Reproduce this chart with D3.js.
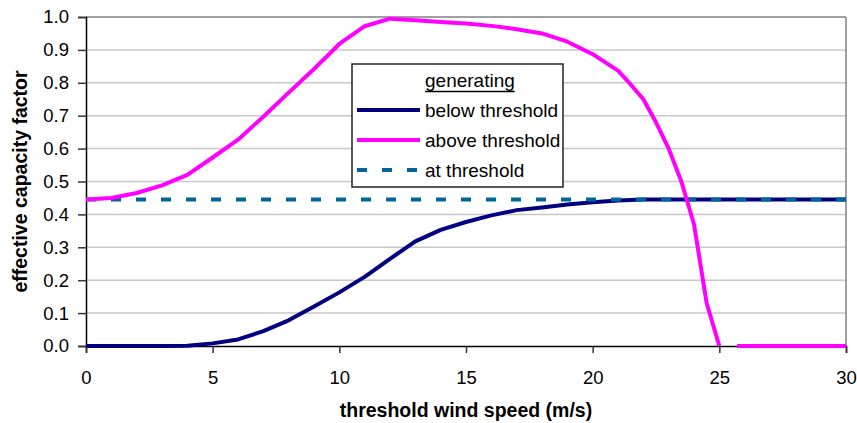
<!DOCTYPE html>
<html>
<head>
<meta charset="utf-8">
<script src="https://cdn.jsdelivr.net/npm/d3@7"></script>
<style>
  html, body { margin: 0; padding: 0; background: #fff; }
  svg { display: block; font-family: "Liberation Sans", Arial, sans-serif; }
</style>
</head>
<body>
<svg id="chart" width="857" height="423"></svg>
<script>
// ---- data ----
const speeds = [0,1,2,3,4,5,6,7,8,9,10,11,12,13,14,15,16,17,18,19,20,21,22,23,24,25,26,27,28,29,30];
const belowValues = [0,0,0,0,0.001,0.008,0.02,0.045,0.078,0.12,0.163,0.21,0.265,0.318,0.353,0.377,0.397,0.413,0.421,0.43,0.437,0.442,0.445,0.445,0.445,0.445,0.445,0.445,0.445,0.445,0.445];
const thresholdValues = speeds.map(() => 0.445);
const aboveSpeeds = [0,1,2,3,4,5,6,7,8,9,10,11,12,13,14,15,16,17,18,19,20,21,21.5,22,22.5,23,23.5,24,24.5,25,25.35,25.7,26,27,28,29,30];
const aboveValues = [0.445,0.45,0.465,0.488,0.52,0.573,0.627,0.697,0.77,0.842,0.918,0.972,0.995,0.99,0.985,0.98,0.973,0.963,0.95,0.925,0.887,0.837,0.795,0.75,0.68,0.6,0.5,0.37,0.13,0,null,0,0,0,0,0,0];
const xTicks = [0,5,10,15,20,25,30];
const yTicks = [0,0.1,0.2,0.3,0.4,0.5,0.6,0.7,0.8,0.9,1.0];
const seriesNames = ["below threshold","above threshold","at threshold"];
const legendTitle = "generating";

// ---- layout ----
const svg = d3.select("#chart");
const pLeft = 86, pRight = 846, pTop = 17, pBottom = 346;
const x = d3.scaleLinear().domain([0,30]).range([pLeft,pRight]);
const y = d3.scaleLinear().domain([0,1]).range([pBottom,pTop]);

// gridlines
svg.append("g").selectAll("line").data(yTicks.filter(d => d > 0 && d < 1)).join("line")
  .attr("x1", pLeft).attr("x2", pRight)
  .attr("y1", d => y(d)).attr("y2", d => y(d))
  .attr("stroke", "#c8c8c8").attr("stroke-width", 1.5);

// plot border top/right
svg.append("line").attr("x1", pLeft).attr("x2", pRight).attr("y1", pTop).attr("y2", pTop)
  .attr("stroke", "#808080").attr("stroke-width", 1.5);
svg.append("line").attr("x1", pRight).attr("x2", pRight).attr("y1", pTop).attr("y2", pBottom)
  .attr("stroke", "#808080").attr("stroke-width", 1.5);

// axes
const yAxis = d3.axisLeft(y).tickValues(yTicks).tickFormat(d3.format(".1f")).tickSize(8).tickPadding(9);
const gy = svg.append("g").attr("transform", `translate(${pLeft},0)`).call(yAxis);
gy.select(".domain").attr("stroke", "#000").attr("stroke-width", 1.5);
gy.selectAll(".tick line").attr("stroke", "#333").attr("stroke-width", 1.5);
gy.selectAll(".tick text").attr("font-size", 18.5).attr("fill", "#000")
  .attr("font-family", '"Liberation Sans", Arial, sans-serif');

const xAxis = d3.axisBottom(x).tickValues(xTicks).tickFormat(d3.format("d")).tickSize(7).tickPadding(18);
const gx = svg.append("g").attr("transform", `translate(0,${pBottom})`).call(xAxis);
gx.select(".domain").attr("stroke", "#000").attr("stroke-width", 1.5);
gx.selectAll(".tick line").attr("stroke", "#333").attr("stroke-width", 1.5);
gx.selectAll(".tick text").attr("font-size", 18.5).attr("fill", "#000")
  .attr("font-family", '"Liberation Sans", Arial, sans-serif');

// axis titles
svg.append("text").attr("x", (pLeft+pRight)/2).attr("y", 417).attr("text-anchor", "middle")
  .attr("font-size", 19.5).attr("font-weight", "bold").text("threshold wind speed (m/s)");
svg.append("text").attr("transform", `translate(27,${(pTop+pBottom)/2}) rotate(-90)`)
  .attr("text-anchor", "middle").attr("font-size", 19.5).attr("font-weight", "bold")
  .text("effective capacity factor");

// lines
const line = d3.line().defined(d => d[1] !== null).x(d => x(d[0])).y(d => y(d[1]));
svg.append("path").datum(speeds.map((s,i) => [s, belowValues[i]]))
  .attr("d", line).attr("fill", "none").attr("stroke", "#000080").attr("stroke-width", 4)
  .attr("stroke-linejoin", "round");
svg.append("path").datum(speeds.map((s,i) => [s, thresholdValues[i]]))
  .attr("d", line).attr("fill", "none").attr("stroke", "#006699").attr("stroke-width", 4)
  .attr("stroke-dasharray", "10,15");
svg.append("path").datum(aboveSpeeds.map((s,i) => [s, aboveValues[i]]))
  .attr("d", line).attr("fill", "none").attr("stroke", "#ff00ff").attr("stroke-width", 4)
  .attr("stroke-linejoin", "round");

// legend
const lg = svg.append("g");
lg.append("rect").attr("x", 352).attr("y", 64).attr("width", 211).attr("height", 123)
  .attr("fill", "#fff").attr("stroke", "#222").attr("stroke-width", 1.5);
const tt = lg.append("text").attr("x", 425).attr("y", 87).attr("font-size", 19).text(legendTitle);
const tw = tt.node().getComputedTextLength();
lg.append("line").attr("x1", 425).attr("x2", 425 + tw).attr("y1", 91.5).attr("y2", 91.5)
  .attr("stroke", "#000").attr("stroke-width", 1.5);
const legendColors = ["#000080","#ff00ff","#006699"];
const legendDash = [null, null, "10,15"];
seriesNames.forEach((name, i) => {
  const yy = 110 + i * 30;
  lg.append("line").attr("x1", 357).attr("x2", 420).attr("y1", yy).attr("y2", yy)
    .attr("stroke", legendColors[i]).attr("stroke-width", 4)
    .attr("stroke-dasharray", legendDash[i]);
  lg.append("text").attr("x", 425).attr("y", yy + 7).attr("font-size", 19).text(name);
});
</script>
</body>
</html>
